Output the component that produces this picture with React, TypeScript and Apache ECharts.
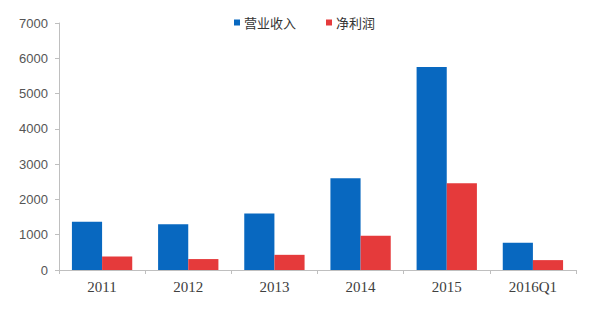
import React, { useEffect, useRef } from "react";
import * as echarts from "echarts";

const categories = ["2011", "2012", "2013", "2014", "2015", "2016Q1"];
const revenue = [1370, 1300, 1600, 2600, 5750, 770];
const netProfit = [380, 310, 430, 970, 2460, 280];
const seriesNames = ["营业收入", "净利润"];

export default function App() {
  const ref = useRef<HTMLDivElement>(null);
  useEffect(() => {
    if (!ref.current) return;
    const chart = echarts.init(ref.current, undefined, { renderer: "svg" });
    chart.setOption({
      animation: false,
      backgroundColor: "#ffffff",
      legend: {
        data: seriesNames,
        left: 234,
        top: 16,
        padding: 0,
        itemWidth: 6,
        itemHeight: 6,
        itemGap: 30,
        icon: "rect",
        textStyle: {
          fontFamily: "Noto Sans CJK SC",
          fontSize: 13,
          color: "#333333",
          padding: [0, 0, 0, -1],
        },
      },
      grid: { left: 59, right: 24, top: 23, bottom: 40 },
      xAxis: {
        type: "category",
        data: categories,
        axisLine: { lineStyle: { color: "#bfbfbf", width: 1 } },
        axisTick: { show: true, length: 4, lineStyle: { color: "#bfbfbf" } },
        axisLabel: {
          fontFamily: "Liberation Serif",
          fontSize: 15,
          color: "#404040",
          margin: 9,
        },
      },
      yAxis: {
        type: "value",
        min: 0,
        max: 7000,
        interval: 1000,
        splitLine: { show: false },
        axisLine: { show: true, lineStyle: { color: "#bfbfbf", width: 1 } },
        axisTick: { show: true, length: 4, lineStyle: { color: "#bfbfbf" } },
        axisLabel: {
          fontFamily: "Liberation Sans",
          fontSize: 13,
          color: "#555555",
          margin: 11,
          formatter: (v: number) => String(v),
        },
      },
      series: [
        {
          name: seriesNames[0],
          type: "bar",
          data: revenue,
          barGap: "0%",
          barCategoryGap: "30%",
          itemStyle: { color: "#0868C0" },
        },
        {
          name: seriesNames[1],
          type: "bar",
          data: netProfit,
          barGap: "0%",
          barCategoryGap: "30%",
          itemStyle: { color: "#E53A3B" },
        },
      ],
    });
    return () => chart.dispose();
  }, []);
  return <div ref={ref} style={{ width: 600, height: 310, position: "absolute", left: 0, top: 0 }} />;
}
